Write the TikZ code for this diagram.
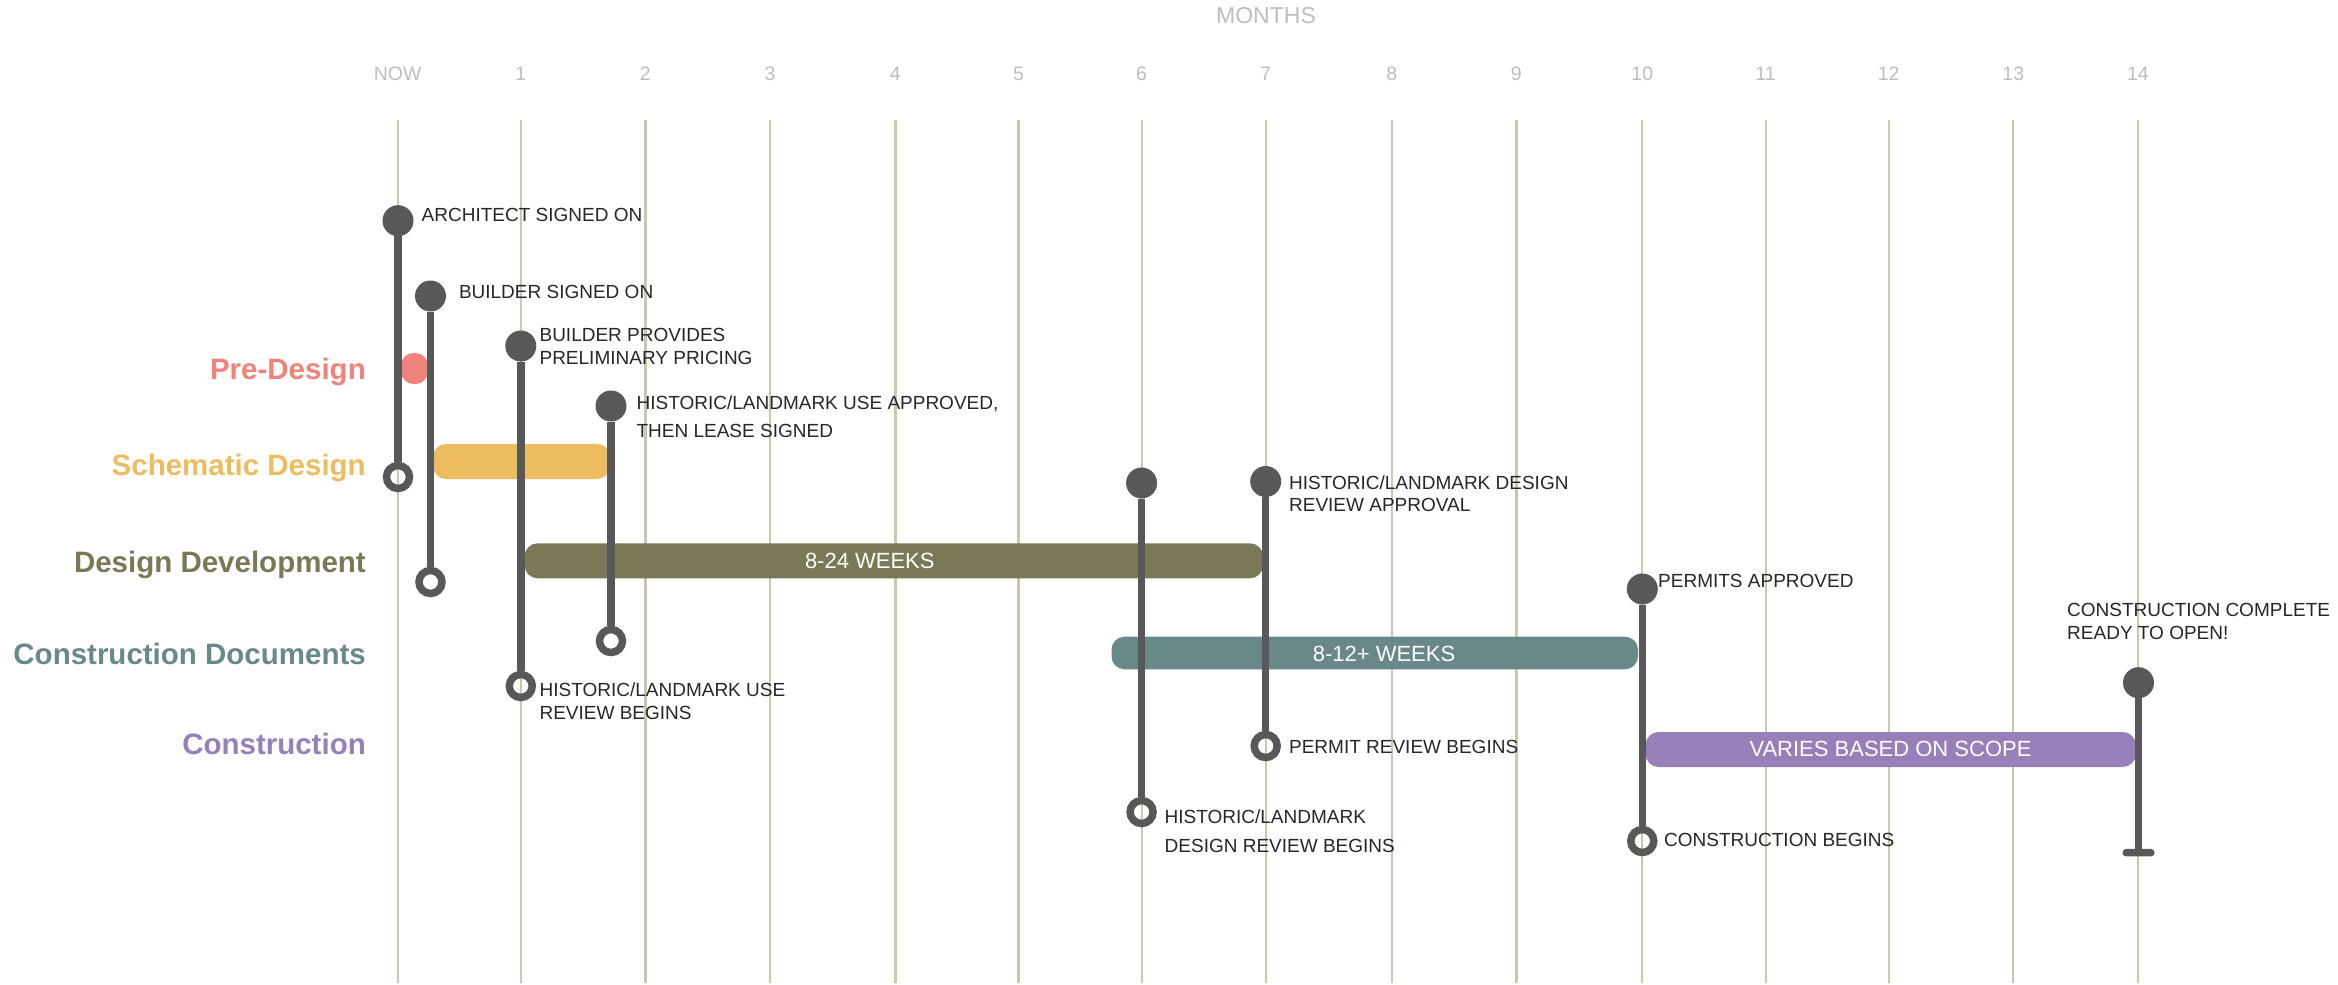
\documentclass[tikz,border=0pt]{standalone}
\usepackage{fontspec}
\setmainfont{Liberation Sans}
\usepackage{tikz}
\usetikzlibrary{calc,positioning}

\definecolor{gridtan}{HTML}{CBC7AF}
\definecolor{monthgray}{HTML}{BDBDBD}
\definecolor{stemgray}{HTML}{58585A}
\definecolor{labeldark}{HTML}{262626}
\definecolor{predesign}{HTML}{EF827A}
\definecolor{schematic}{HTML}{ECBD60}
\definecolor{devel}{HTML}{7A7856}
\definecolor{docs}{HTML}{688988}
\definecolor{constr}{HTML}{977FBA}

\tikzset{
	gridline/.style={draw=gridtan, line width=2.2pt},
	monthlabel/.style={text=monthgray, font=\fontsize{19.5}{20}\selectfont, inner sep=0pt, anchor=base},
	phaselabel/.style={font=\bfseries\fontsize{29.5}{30}\selectfont, inner sep=0pt, anchor=base east},
	evt/.style={text=labeldark, font=\fontsize{19}{20}\selectfont, inner sep=0pt, anchor=base west},
	bartext/.style={text=white, font=\fontsize{22}{24}\selectfont, inner sep=0pt, anchor=base},
	phasebar/.style={rounded corners=13pt},
	startdot/.style={circle, fill=stemgray, minimum size=31pt, inner sep=0pt},
	enddot/.style={circle, draw=stemgray, line width=7.5pt, minimum size=23pt, inner sep=0pt},
	endcap/.style={rectangle, fill=stemgray, rounded corners=3.5pt, minimum width=32pt, minimum height=7.5pt, inner sep=0pt},
	stemline/.style={draw=stemgray, line width=7.5pt},
}

\begin{document}
\begin{tikzpicture}[x=1pt, y=-1pt]
	\useasboundingbox (0,0) rectangle (2338,985);

	% Month axis
	\node [monthlabel, font=\fontsize{23}{24}\selectfont] (months) at (1266, 23.3) {MONTHS};
	\node [monthlabel] (m0) at (397.7, 80.7) {NOW};
	\node [monthlabel] (m1) at (520.8, 80.7) {1};
	\node [monthlabel] (m2) at (645.4, 80.7) {2};
	\node [monthlabel] (m3) at (770, 80.7) {3};
	\node [monthlabel] (m4) at (895.4, 80.7) {4};
	\node [monthlabel] (m5) at (1018.5, 80.7) {5};
	\node [monthlabel] (m6) at (1141.6, 80.7) {6};
	\node [monthlabel] (m7) at (1265.7, 80.7) {7};
	\node [monthlabel] (m8) at (1391.9, 80.7) {8};
	\node [monthlabel] (m9) at (1516.4, 80.7) {9};
	\node [monthlabel] (m10) at (1642.3, 80.7) {10};
	\node [monthlabel] (m11) at (1765.6, 80.7) {11};
	\node [monthlabel] (m12) at (1888.7, 80.7) {12};
	\node [monthlabel] (m13) at (2013.3, 80.7) {13};
	\node [monthlabel] (m14) at (2137.9, 80.7) {14};

	\draw [gridline] (397.7, 120) -- (397.7, 983);
	\draw [gridline] (520.8, 120) -- (520.8, 983);
	\draw [gridline] (645.4, 120) -- (645.4, 983);
	\draw [gridline] (770, 120) -- (770, 983);
	\draw [gridline] (895.4, 120) -- (895.4, 983);
	\draw [gridline] (1018.5, 120) -- (1018.5, 983);
	\draw [gridline] (1141.6, 120) -- (1141.6, 983);
	\draw [gridline] (1265.7, 120) -- (1265.7, 983);
	\draw [gridline] (1391.9, 120) -- (1391.9, 983);
	\draw [gridline] (1516.4, 120) -- (1516.4, 983);
	\draw [gridline] (1642.3, 120) -- (1642.3, 983);
	\draw [gridline] (1765.6, 120) -- (1765.6, 983);
	\draw [gridline] (1888.7, 120) -- (1888.7, 983);
	\draw [gridline] (2013.3, 120) -- (2013.3, 983);
	\draw [gridline] (2137.9, 120) -- (2137.9, 983);

	% Phase names
	\node [phaselabel, text=predesign] (pre) at (366, 379.3) {Pre-Design};
	\node [phaselabel, text=schematic] (sd) at (366, 475) {Schematic Design};
	\node [phaselabel, text=devel] (dd) at (366, 572.3) {Design Development};
	\node [phaselabel, text=docs] (cd) at (366, 664) {Construction Documents};
	\node [phaselabel, text=constr] (con) at (366, 754) {Construction};

	% Phase bars
	\fill [predesign, rounded corners=12.5pt] (401, 353) rectangle (428, 384);
	\fill [schematic, phasebar] (433, 444) rectangle (610, 479);
	\fill [devel, phasebar] (524.6, 543.3) rectangle (1263, 578.3);
	\node [bartext] (ddweeks) at (869.8, 568.3) {8-24 WEEKS};
	\fill [docs, phasebar] (1111.5, 636.7) rectangle (1638, 669.3);
	\node [bartext] (cdweeks) at (1384, 661.7) {8-12+ WEEKS};
	\fill [constr, phasebar] (1645.5, 732) rectangle (2135.8, 767);
	\node [bartext] (conscope) at (1890.5, 756.7) {VARIES BASED ON SCOPE};

	% Milestones, start dot to end ring
	\node [startdot] (arch) at (398, 220.7) {};
	\node [enddot] (archend) at (398, 477) {};
	\draw [stemline] (arch) -- (archend);

	\node [startdot] (bld) at (430.5, 296) {};
	\node [enddot] (bldend) at (430.5, 582) {};
	\draw [stemline] (bld) -- (bldend);

	\node [startdot] (price) at (520.8, 346) {};
	\node [enddot] (priceend) at (520.8, 686) {};
	\draw [stemline] (price) -- (priceend);

	\node [startdot] (useok) at (611, 406) {};
	\node [enddot] (useokend) at (611, 641) {};
	\draw [stemline] (useok) -- (useokend);

	\node [startdot] (desrev) at (1141.6, 483) {};
	\node [enddot] (desrevend) at (1141.6, 812) {};
	\draw [stemline] (desrev) -- (desrevend);

	\node [startdot] (desok) at (1265.7, 481.5) {};
	\node [enddot] (desokend) at (1265.7, 746) {};
	\draw [stemline] (desok) -- (desokend);

	\node [startdot] (permit) at (1642.3, 589) {};
	\node [enddot] (permitend) at (1642.3, 841) {};
	\draw [stemline] (permit) -- (permitend);

	\node [startdot] (done) at (2138.5, 682.7) {};
	\node [endcap] (doneend) at (2138.5, 852.7) {};
	\draw [stemline] (done) -- (doneend);

	% Milestone texts
	\node [evt] (archtxt) at (421.5, 221.7) {ARCHITECT SIGNED ON};
	\node [evt] (bldtxt) at (458.8, 298.3) {BUILDER SIGNED ON};
	\node [evt] (pricetxt) at (539.4, 341.7) {BUILDER PROVIDES};
	\node [evt] (pricetxtb) at (539.4, 364.3) {PRELIMINARY PRICING};
	\node [evt] (useoktxt) at (636.4, 409.3) {HISTORIC/LANDMARK USE APPROVED,};
	\node [evt] (useoktxtb) at (636.4, 437.7) {THEN LEASE SIGNED};
	\node [evt] (userevtxt) at (539.4, 696.7) {HISTORIC/LANDMARK USE};
	\node [evt] (userevtxtb) at (539.4, 719) {REVIEW BEGINS};
	\node [evt] (desoktxt) at (1288.9, 489) {HISTORIC/LANDMARK DESIGN};
	\node [evt] (desoktxtb) at (1288.9, 511.7) {REVIEW APPROVAL};
	\node [evt] (permrevtxt) at (1288.9, 753.3) {PERMIT REVIEW BEGINS};
	\node [evt] (desrevtxt) at (1164.5, 823.3) {HISTORIC/LANDMARK};
	\node [evt] (desrevtxtb) at (1164.5, 852.3) {DESIGN REVIEW BEGINS};
	\node [evt] (permittxt) at (1658, 587.3) {PERMITS APPROVED};
	\node [evt] (contxt) at (1664, 846.7) {CONSTRUCTION BEGINS};
	\node [evt] (donetxt) at (2067, 616.7) {CONSTRUCTION COMPLETE};
	\node [evt] (donetxtb) at (2067, 639) {READY TO OPEN!};
\end{tikzpicture}
\end{document}
